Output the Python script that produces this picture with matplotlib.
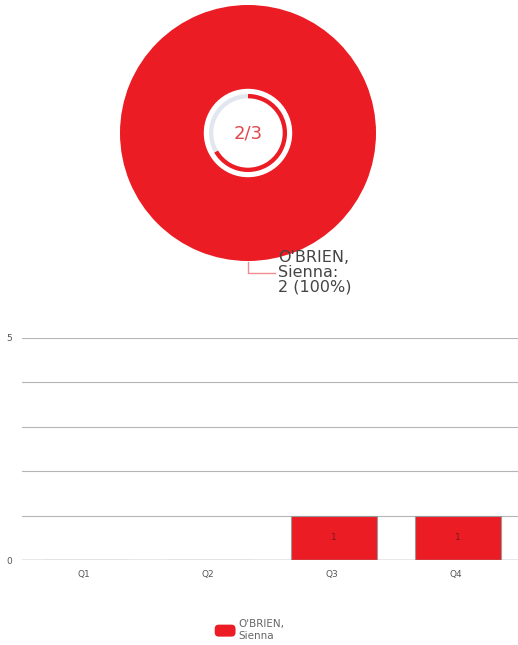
import matplotlib.pyplot as plt
import numpy as np
from matplotlib.patches import FancyBboxPatch
from matplotlib.legend_handler import HandlerPatch

plt.rcParams['font.family'] = ['DejaVu Sans']

# pie data
pie_names = ["O'BRIEN,\nSienna"]
pie_values = [2]
answered = 2
total = 3

# bar data
quarters = ['Q1', 'Q2', 'Q3', 'Q4']
counts = [0, 0, 1, 1]
y_ticks = [0, 5]

RED = '#ec1c24'

fig = plt.figure(figsize=(5.18, 6.45), dpi=100)

# ---- pie ----
ax1 = fig.add_axes([120 / 518, 1 - 261 / 645, 256 / 518, 256 / 645])
ax1.pie(pie_values, colors=[RED], radius=1.0, startangle=90,
        wedgeprops=dict(linewidth=0))
ax1.add_patch(plt.Circle((0, 0), 0.34, color='white', zorder=3))
ax1.pie([answered, total - answered], colors=[RED, '#e1e6ef'], radius=0.305,
        startangle=90, counterclock=False,
        wedgeprops=dict(width=0.034, linewidth=0))
for w in ax1.patches[-2:]:
    w.set_zorder(4)
ax1.text(0, 0, f'{answered}/{total}', ha='center', va='center',
         fontsize=13, color='#e0474c', zorder=5)
ax1.set_xlim(-1, 1)
ax1.set_ylim(-1, 1)
ax1.set_aspect('equal')
ax1.axis('off')

# leader line + label
ax1.plot([0, 0, 0.21], [-1.01, -1.09, -1.09], color='#f08c8f', lw=1,
         clip_on=False)
ax1.text(0.235, -1.09, f"{pie_names[0]}:\n{pie_values[0]} (100%)",
         ha='left', va='center', fontsize=11.5, color='#444444',
         linespacing=0.98, clip_on=False)

# ---- bars ----
ax2 = fig.add_axes([22 / 518, 1 - 560 / 645, 496 / 518, 222 / 645])
x = np.arange(len(quarters))
bars = ax2.bar(x + 0.015, counts, width=0.69, color=RED, edgecolor='#999999',
               linewidth=0.8, zorder=3, label=pie_names[0])
for xi, c in zip(x, counts):
    if c > 0:
        ax2.text(xi + 0.015, c / 2, str(c), ha='center', va='center',
                 fontsize=6.5, color='#7a1a1d', zorder=4)
ax2.set_xlim(-0.5, len(quarters) - 0.5)
ax2.set_ylim(0, 5)
ax2.set_xticks(x)
ax2.set_xticklabels(quarters, fontsize=6.5, color='#555555')
ax2.set_yticks(y_ticks)
ax2.set_yticklabels([str(t) for t in y_ticks], fontsize=6.5, color='#555555')
for gy in range(1, 6):
    ax2.axhline(gy, color='#b5b5b5', lw=0.8, zorder=1)
ax2.axhline(0, color='#8a8a8a', lw=1, zorder=5)
ax2.tick_params(length=0, pad=7)
for s in ax2.spines.values():
    s.set_visible(False)


class RoundHandler(HandlerPatch):
    def create_artists(self, legend, orig_handle, xdescent, ydescent,
                       width, height, fontsize, trans):
        h = 12 * 72 / fig.dpi
        p = FancyBboxPatch((-xdescent, -ydescent + (height - h) / 2), width, h,
                           boxstyle='round,pad=0,rounding_size=3',
                           facecolor=RED, edgecolor='none', transform=trans)
        return [p]


fig.legend(handles=[bars], labels=[pie_names[0]], loc='center',
           bbox_to_anchor=(0.482, 0.023), frameon=False, fontsize=7.5,
           handlelength=2.0, handleheight=1.15, handletextpad=0.3,
           labelcolor='#666666', labelspacing=0.2,
           handler_map={type(bars): RoundHandler()})

fig.savefig('out.png', dpi=100)
